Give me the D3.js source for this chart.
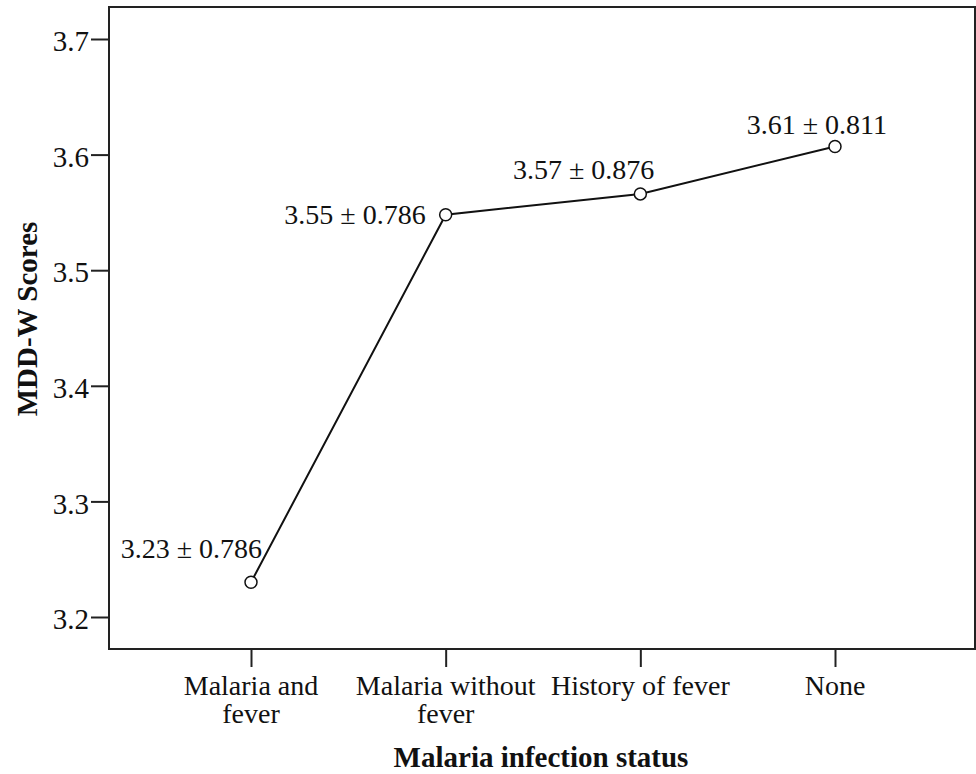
<!DOCTYPE html>
<html>
<head>
<meta charset="utf-8">
<script src="https://cdn.jsdelivr.net/npm/d3@7"></script>
<style>
  body { margin: 0; background: #fff; }
  svg text { font-family: "Liberation Serif", "Times New Roman", serif; fill: #111; }
</style>
</head>
<body>
<div id="chart"></div>
<script>
// chart data
var categories = ["Malaria and fever", "Malaria without fever", "History of fever", "None"];
var catLines = [["Malaria and", "fever"], ["Malaria without", "fever"], ["History of fever"], ["None"]];
var means = [3.230, 3.548, 3.566, 3.607];
var pointLabels = ["3.23 \u00b1 0.786", "3.55 \u00b1 0.786", "3.57 \u00b1 0.876", "3.61 \u00b1 0.811"];
var yTicks = [3.2, 3.3, 3.4, 3.5, 3.6, 3.7];

var W = 976, H = 774;
var box = {left: 109, top: 7, right: 975, bottom: 649};

var svg = d3.select("#chart")
    .append("svg")
    .attr("width", W)
    .attr("height", H);

// scales
var x = d3.scalePoint()
    .domain(categories)
    .range([251, 835]);
var y = d3.scaleLinear()
    .domain([3.2, 3.7])
    .range([617, 39]);

// frame
svg.append("rect")
    .attr("x", box.left)
    .attr("y", box.top)
    .attr("width", box.right - box.left)
    .attr("height", box.bottom - box.top)
    .attr("fill", "none")
    .attr("stroke", "#222")
    .attr("stroke-width", 2);

// Y axis
var yAxis = svg.append("g")
    .attr("transform", "translate(" + box.left + ",0)")
    .call(d3.axisLeft(y).tickValues(yTicks).tickSize(18).tickPadding(2)
        .tickFormat(d3.format(".1f")));
yAxis.select(".domain").remove();
yAxis.selectAll("line").attr("stroke", "#222").attr("stroke-width", 2);
yAxis.selectAll("text")
    .attr("dy", "0.4em")
    .style("font-size", "29px")
    .style("font-family", "Liberation Serif, serif")
    .attr("fill", "#111");

// X axis
var xAxis = svg.append("g")
    .attr("transform", "translate(0," + box.bottom + ")")
    .call(d3.axisBottom(x).tickSize(18).tickFormat(""));
xAxis.select(".domain").remove();
xAxis.selectAll("line").attr("stroke", "#222").attr("stroke-width", 2);

// x tick labels (wrapped)
categories.forEach(function(c, i) {
    var t = svg.append("text")
        .attr("x", x(c))
        .attr("y", 695)
        .attr("text-anchor", "middle")
        .attr("font-size", 28);
    catLines[i].forEach(function(line, j) {
        t.append("tspan")
            .attr("x", x(c))
            .attr("dy", j == 0 ? 0 : 28)
            .text(line);
    });
});

// axis titles
svg.append("text")
    .attr("x", 541)
    .attr("y", 767)
    .attr("text-anchor", "middle")
    .attr("font-size", 29)
    .attr("font-weight", "bold")
    .text("Malaria infection status");

svg.append("text")
    .attr("transform", "translate(37,319) rotate(-90)")
    .attr("text-anchor", "middle")
    .attr("font-size", 29)
    .attr("font-weight", "bold")
    .text("MDD-W Scores");

// line
var data = categories.map(function(c, i) { return {c: c, v: means[i], label: pointLabels[i]}; });

svg.append("path")
    .datum(data)
    .attr("fill", "none")
    .attr("stroke", "#111")
    .attr("stroke-width", 2)
    .attr("d", d3.line()
        .x(function(d) { return x(d.c); })
        .y(function(d) { return y(d.v); })
    );

svg.selectAll("circle.pt")
    .data(data)
    .enter()
    .append("circle")
    .attr("class", "pt")
    .attr("cx", function(d) { return x(d.c); })
    .attr("cy", function(d) { return y(d.v); })
    .attr("r", 6)
    .attr("fill", "#fff")
    .attr("stroke", "#111")
    .attr("stroke-width", 1.5);

// point labels
var labelPos = [
    {dx: 11, dy: -24},
    {dx: -20, dy: 9},
    {dx: 14, dy: -15},
    {dx: 52, dy: -13}
];
svg.selectAll("text.plab")
    .data(data)
    .enter()
    .append("text")
    .attr("class", "plab")
    .attr("x", function(d, i) { return x(d.c) + labelPos[i].dx; })
    .attr("y", function(d, i) { return y(d.v) + labelPos[i].dy; })
    .attr("text-anchor", "end")
    .attr("font-size", 28)
    .text(function(d) { return d.label; });
</script>
</body>
</html>
